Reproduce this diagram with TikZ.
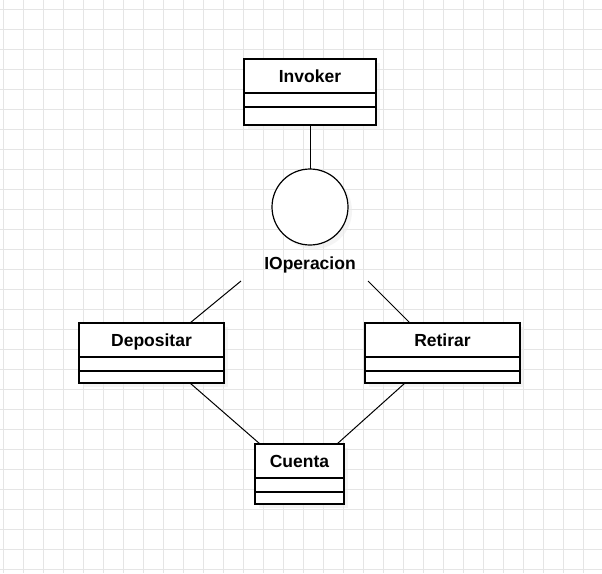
\documentclass[tikz,border=0pt]{standalone}
\usepackage{fontspec}
\setmainfont{Liberation Sans}
\usetikzlibrary{positioning,shadows}

\begin{document}
\begin{tikzpicture}[x=1pt,y=-1pt,
  gridline/.style={black!10,line width=0.8pt},
  boxshadow/.style={drop shadow={fill=black!8,shadow xshift=4pt,shadow yshift=-4pt}},
  classname/.style={draw,fill=white,line width=1.3pt,outer sep=0pt,inner sep=0pt,
    minimum height=34pt,text height=12.5pt,text depth=0pt,
    font=\bfseries\fontsize{17.5}{20}\selectfont,boxshadow},
  classpart/.style={draw,fill=white,line width=1.3pt,outer sep=0pt,inner sep=0pt,boxshadow},
  iface/.style={circle,draw,fill=white,line width=1.2pt,outer sep=0pt,minimum size=76pt,boxshadow},
  ifacename/.style={inner sep=0pt,text height=12.5pt,text depth=0pt,
    font=\bfseries\fontsize{17.5}{20}\selectfont},
  link/.style={line width=1pt}]
\useasboundingbox (0,0) rectangle (602,573);
\fill[white] (0,0) rectangle (602,573);
% grid
\foreach \gx in {3,23,...,603} \draw[gridline] (\gx,0) -- (\gx,573);
\foreach \gy in {9,29,...,569} \draw[gridline] (0,\gy) -- (602,\gy);

% Invoker
\node[classname,minimum width=132pt] (invoker) at (310,76) {Invoker};
\node[classpart,minimum width=132pt,minimum height=14pt,below=0pt of invoker] (invokerattr) {};
\node[classpart,minimum width=132pt,minimum height=18pt,below=0pt of invokerattr] (invokerops) {};

% interface
\node[iface] (iop) at (310,207) {};
\node[ifacename,below=12pt of iop] (iopname) {IOperacion};
\coordinate (iopleft) at (241,281);
\coordinate (iopright) at (368,281);

% Depositar
\node[classname,minimum width=145pt] (depositar) at (151.5,340) {Depositar};
\node[classpart,minimum width=145pt,minimum height=14pt,below=0pt of depositar] (depositarattr) {};
\node[classpart,minimum width=145pt,minimum height=12pt,below=0pt of depositarattr] (depositarops) {};

% Retirar
\node[classname,minimum width=155pt] (retirar) at (442.5,340) {Retirar};
\node[classpart,minimum width=155pt,minimum height=14pt,below=0pt of retirar] (retirarattr) {};
\node[classpart,minimum width=155pt,minimum height=12pt,below=0pt of retirarattr] (retirarops) {};

% Cuenta
\node[classname,minimum width=89pt] (cuenta) at (299.5,461) {Cuenta};
\node[classpart,minimum width=89pt,minimum height=14pt,below=0pt of cuenta] (cuentaattr) {};
\node[classpart,minimum width=89pt,minimum height=12pt,below=0pt of cuentaattr] (cuentaops) {};

\draw[link] (invokerops.south) -- (iop.north);
\draw[link] (iopleft) -- ([xshift=-34pt]depositar.north east);
\draw[link] (iopright) -- ([xshift=45pt]retirar.north west);
\draw[link] ([xshift=-34pt]depositarops.south east) -- ([xshift=5pt]cuenta.north west);
\draw[link] ([xshift=40pt]retirarops.south west) -- ([xshift=-7pt]cuenta.north east);
\end{tikzpicture}
\end{document}
